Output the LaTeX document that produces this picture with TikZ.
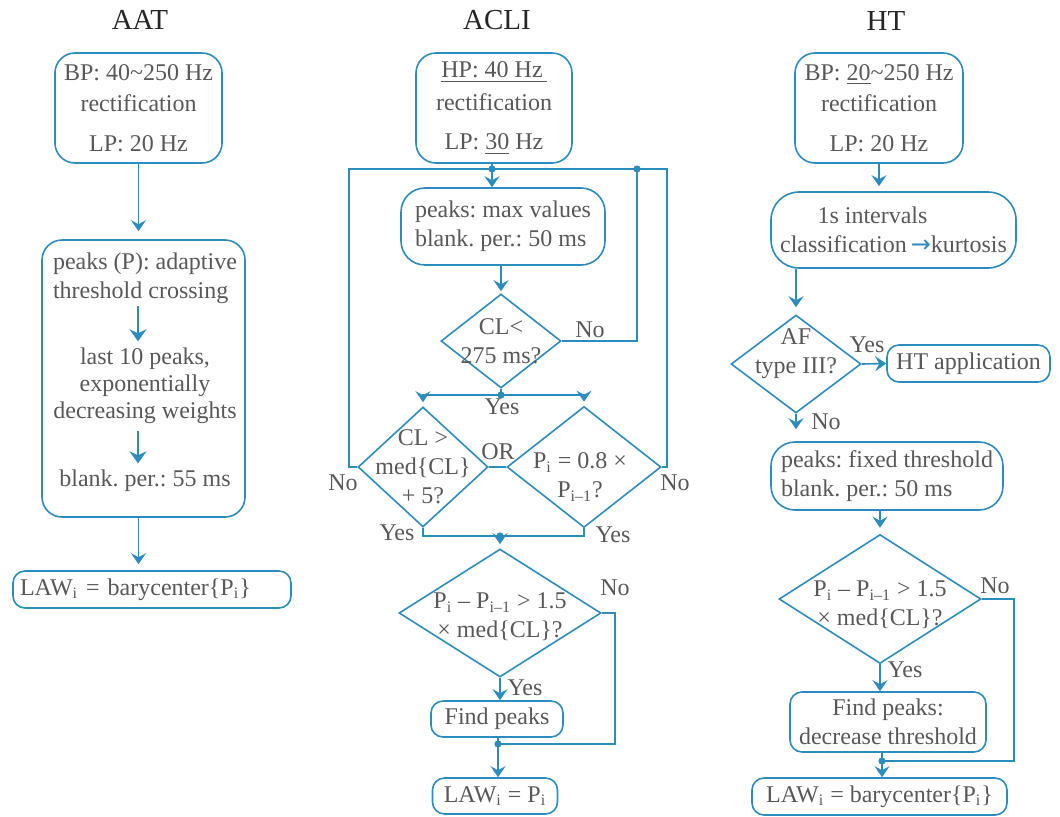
\documentclass[tikz,border=0pt]{standalone}
\usepackage{fontspec}
\setmainfont{Liberation Serif}
\newfontfamily\symfont{DejaVu Sans}
\usetikzlibrary{shapes.geometric,arrows.meta}
\definecolor{flowblue}{RGB}{43,140,189}
\definecolor{txtgray}{RGB}{88,88,88}
\newcommand{\sbs}[1]{\textsubscript{#1}}
\frenchspacing
\tikzset{
  box/.style={draw=flowblue, line width=0.8pt, rounded corners=10pt, align=center, inner sep=2pt},
  smallbox/.style={box, rounded corners=6pt},
  dec/.style={diamond, draw=flowblue, line width=0.8pt, inner sep=0pt},
  dectext/.style={align=center, text=txtgray},
  arr/.style={-{Stealth[length=5.5pt,width=7.5pt,inset=2pt]}},
  bigarr/.style={line width=1.4pt, -{Stealth[length=6pt,width=8.5pt,inset=2pt]}},
  title/.style={font=\fontsize{14.5}{17}\selectfont, text=black!85},
}
\begin{document}
\begin{tikzpicture}[x=0.5pt, y=-0.5pt, font=\fontsize{12}{14.5}\selectfont,
    color=flowblue, text=txtgray, line width=0.8pt]
  \useasboundingbox (0,0) rectangle (1060,816);
  % AAT
  \node[title] (tA) at (140,20) {AAT};
  \node[box, minimum width=83.5pt, minimum height=55pt] (a1) at (138.5,108)
    {BP: 40\textasciitilde250 Hz\\[1pt]rectification\\[5.5pt]LP: 20 Hz};
  \node[box, minimum width=101.5pt, minimum height=138.5pt] (a2) at (143.5,378.5) {};
  \node[align=left, inner sep=1pt] (a2t1) at (145,278) {peaks (P): adaptive\\threshold crossing};
  \node[align=center, inner sep=3pt] (a2t2) at (145,386) {last 10 peaks,\\[-1pt]exponentially\\[-1pt]decreasing weights};
  \node[inner sep=3pt] (a2t3) at (145,481) {blank. per.: 55 ms};
  \node[smallbox, minimum width=139pt, minimum height=18.5pt, text width=132pt, align=left] (a3)
    at (152,589.5) {LAW\sbs{i} = barycenter\{P\sbs{i}\}};
  \draw[arr, shorten >=4pt] (a1) -- (a1 |- a2.north);
  \draw[bigarr] ([xshift=-3.5pt]a2t1.south) -- ([xshift=-3.5pt]a2t2.north);
  \draw[bigarr] ([xshift=-3.5pt]a2t2.south) -- ([xshift=-3.5pt]a2t3.north);
  \draw[arr, shorten >=3pt] (a2.south -| a1) -- (a1 |- a3.north);

  % ACLI
  \node[title] (tC) at (497,20) {ACLI};
  \node[box, minimum width=78pt, minimum height=55pt] (c1) at (494,108)
    {\underline{HP: 40 Hz\,}\\[2pt]rectification\\[5pt]LP: \underline{30} Hz};
  \node[box, rounded corners=12pt, minimum width=102pt, minimum height=38.5pt, align=left] (c2)
    at (503,226.5) {peaks: max values\\blank. per.: 50 ms};
  \node[dec, minimum width=60pt, minimum height=47pt,
    label={[dectext]center:{CL<\\275 ms?}}] (c3) at (501,341) {};
  \node[dec, minimum width=65pt, minimum height=60pt,
    label={[dectext]center:{CL >\\med\{CL\}\\+ 5?}}] (c4) at (423,467) {};
  \node[dec, minimum width=77pt, minimum height=60.5pt,
    label={[dectext, xshift=-2pt, yshift=-5pt]center:{P\sbs{i} = 0.8 ×\\P\sbs{i–1}?}}] (c5) at (584,467) {};
  \node[dec, minimum width=101pt, minimum height=64pt,
    label={[dectext, yshift=-2pt]center:{P\sbs{i} – P\sbs{i–1} > 1.5\\× med\{CL\}?}}] (c6) at (500,613) {};
  \node[smallbox, minimum width=66pt, minimum height=18pt] (c7) at (497,719) {Find peaks};
  \node[smallbox, minimum width=62.5pt, minimum height=18pt] (c8) at (495,796) {LAW\sbs{i} = P\sbs{i}};
  \coordinate (j1) at (492,169);
  \coordinate (j5) at (637,169);
  \coordinate (j2) at (501,395);
  \coordinate (j3) at (500,536);
  \coordinate (j4) at (498,744);
  \draw (c1.south -| j1) -- (j1);
  \draw[arr] (j1) -- (j1 |- c2.north);
  \draw[arr, shorten >=1pt] (c3.north |- c2.south) -- (c3.north);
  \draw (c3.east) -- (c3.east -| j5) -- (j5);
  \draw (c3.south) -- (j2);
  \draw[arr, shorten >=2pt] (j2) -| (c4.north);
  \draw[arr, shorten >=2pt] (j2) -| (c5.north);
  \draw (c4.east) -- (c5.west);
  \draw (c4.west) -- ++(-8,0) |- (j1);
  \draw (c5.east) -- ++(5,0) |- (j1);
  \draw (c4.south) |- (j3) -| (c5.south);
  \draw[arr, shorten >=2pt] (j3) -- (c6.north);
  \draw (c6.east) -- ++(13,0) |- (j4);
  \draw[arr] (c6.south) -- (c6.south |- c7.north);
  \draw (c7.south -| j4) -- (j4);
  \draw[arr] (j4) -- (j4 |- c8.north);
  \node (n1) at (590,330) {No};
  \node (y1) at (502,407) {Yes};
  \node (or) at (498,452) {OR};
  \node (n2) at (343,483) {No};
  \node (n3) at (675,483) {No};
  \node (y2) at (397,533) {Yes};
  \node (y3) at (613,535) {Yes};
  \node (n4) at (615,588) {No};
  \node (y4) at (525,688) {Yes};

  % HT
  \node[title] (tH) at (886,21) {HT};
  \node[box, minimum width=84pt, minimum height=55pt] (h1) at (879,108)
    {BP: \underline{20}\textasciitilde250 Hz\\[1pt]rectification\\[5.5pt]LP: 20 Hz};
  \node[box, rounded corners=14pt, minimum width=122.5pt, minimum height=38pt] (h2) at (893.5,230)
    {1s intervals\kern21pt\\classification\,{\symfont\color{flowblue}→}kurtosis};
  \node[dec, minimum width=65pt, minimum height=49pt,
    label={[dectext, yshift=5pt]center:{AF\\type III?}}] (h3) at (796,364) {};
  \node[smallbox, minimum width=81.5pt, minimum height=18.5pt] (h4) at (968.5,363.5) {HT application};
  \node[box, rounded corners=12pt, minimum width=116pt, minimum height=34pt, align=left] (h5)
    at (887,476) {peaks: fixed threshold\\blank. per.: 50 ms};
  \node[dec, minimum width=101pt, minimum height=64.5pt,
    label={[dectext, yshift=-3pt]center:{P\sbs{i} – P\sbs{i–1} > 1.5\\× med\{CL\}?}}] (h6) at (880,599) {};
  \node[smallbox, minimum width=98pt, minimum height=30pt] (h7) at (888,722) {Find peaks:\\decrease threshold};
  \node[smallbox, minimum width=127.5pt, minimum height=18.5pt] (h8) at (879.5,796.5)
    {LAW\sbs{i} = barycenter\{P\sbs{i}\}};
  \coordinate (j6) at (882,761);
  \draw[arr, shorten >=2.5pt] (h1) -- (h1 |- h2.north);
  \draw[arr, shorten >=3.5pt] (h3.north |- h2.south) -- (h3.north);
  \draw[arr] (h3.east) -- (h4.west);
  \draw[arr, shorten >=6pt] (h3.south) -- (h3.south |- h5.north);
  \draw[arr, shorten >=3pt] (h6.north |- h5.south) -- (h6.north);
  \draw[arr] (h6.south) -- (h6.south |- h7.north);
  \draw (h6.east) -- ++(32,0) |- (j6);
  \draw (h7.south -| j6) -- (j6);
  \draw[arr] (j6) -- (j6 |- h8.north);
  \node (y5) at (867,345) {Yes};
  \node (n5) at (826,422) {No};
  \node (n6) at (995,586) {No};
  \node (y6) at (905,670) {Yes};

  % dots
  \foreach \j in {j1,j5,j2,j3,j4,j6}
    \fill (\j) circle (1.8pt);
\end{tikzpicture}
\end{document}
